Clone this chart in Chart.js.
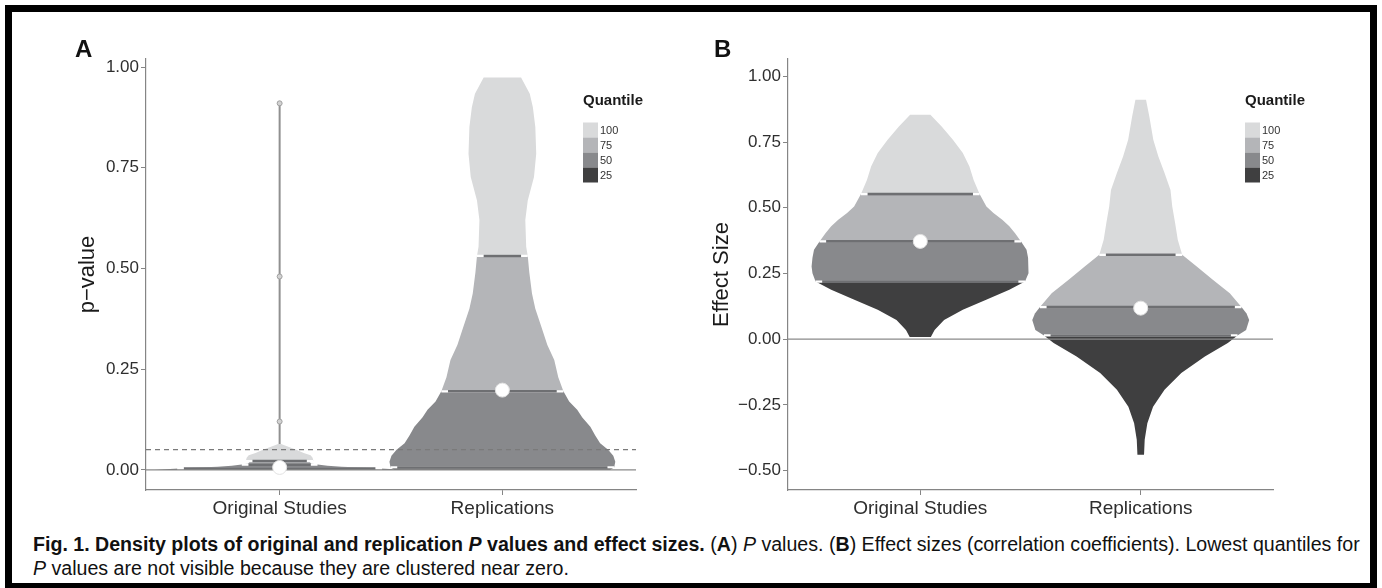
<!DOCTYPE html>
<html>
<head>
<meta charset="utf-8">
<script src="https://cdn.jsdelivr.net/npm/chart.js@4.4.1/dist/chart.umd.min.js"></script>
<style>
  html, body { margin: 0; padding: 0; background: #fff; }
  body { width: 1382px; height: 588px; position: relative; overflow: hidden; font-family: "Liberation Sans", Arial, sans-serif; }
  .frame { position: absolute; left: 5px; top: 5px; width: 1372px; height: 585px; box-sizing: border-box; border: 7px solid #000; pointer-events: none; }
  .panel-label { position: absolute; top: 37px; font: bold 24px "Liberation Sans", Arial, sans-serif; line-height: 24px; color: #111; }
  #chartA { position: absolute; left: 0; top: 0; }
  #chartB { position: absolute; left: 700px; top: 0; }
  .caption { position: absolute; left: 33px; top: 532px; font-size: 19.6px; line-height: 24px; color: #111; white-space: nowrap; }
</style>
</head>
<body>
<canvas id="chartA" width="690" height="530"></canvas>
<canvas id="chartB" width="640" height="530"></canvas>
<div class="panel-label" style="left:75px">A</div>
<div class="panel-label" style="left:714px">B</div>
<div class="caption"><b>Fig. 1. Density plots of original and replication <i>P</i> values and effect sizes.</b> (<b>A</b>) <i>P</i> values. (<b>B</b>) Effect sizes (correlation coefficients). Lowest quantiles for<br><i>P</i> values are not visible because they are clustered near zero.</div>
<div class="frame"></div>
<script>
// categories and legend
const categories = ['Original Studies', 'Replications'];
const catPos = [1, 2];
const quantileLabels = ['100', '75', '50', '25'];

// panel A: p-values
const yTicksA = [0, 0.25, 0.5, 0.75, 1];
const yTickLabelsA = ['0.00', '0.25', '0.50', '0.75', '1.00'];
const pThreshold = 0.05;

// violin profiles: y value and half width (in category units)
const origA_y = [0, 0.002, 0.003, 0.005, 0.008, 0.010, 0.013, 0.016, 0.019, 0.022, 0.030, 0.036, 0.042, 0.050, 0.056, 0.062, 0.064];
const origA_w = [0.560, 0.493, 0.460, 0.392, 0.278, 0.215, 0.170, 0.143, 0.135, 0.152, 0.148, 0.139, 0.108, 0.075, 0.045, 0.018, 0.007];
const origA_q = [0.003, 0.013, 0.022];
const origA_stem = [0.064, 0.91];
const origA_bumps = [0.12, 0.48, 0.91];

const repA_y = [0, 0.006, 0.020, 0.035, 0.050, 0.066, 0.085, 0.107, 0.130, 0.149, 0.170, 0.195, 0.230, 0.273, 0.310, 0.355, 0.400, 0.438, 0.490, 0.531, 0.554, 0.620, 0.669, 0.727, 0.785, 0.851, 0.900, 0.934, 0.974];
const repA_w = [0.484, 0.502, 0.507, 0.498, 0.475, 0.439, 0.417, 0.395, 0.359, 0.336, 0.300, 0.274, 0.251, 0.233, 0.202, 0.175, 0.148, 0.133, 0.121, 0.114, 0.107, 0.103, 0.114, 0.142, 0.152, 0.148, 0.137, 0.123, 0.084];
const repA_q = [0.006, 0.195, 0.531];

const meanA = [0.006, 0.198];

// panel B: effect sizes
const yTicksB = [-0.5, -0.25, 0, 0.25, 0.5, 0.75, 1];
const yTickLabelsB = ['\u22120.50', '\u22120.25', '0.00', '0.25', '0.50', '0.75', '1.00'];

const origB_y = [0.008, 0.035, 0.073, 0.112, 0.150, 0.188, 0.219, 0.251, 0.276, 0.310, 0.340, 0.372, 0.403, 0.430, 0.454, 0.480, 0.505, 0.552, 0.606, 0.657, 0.708, 0.759, 0.809, 0.854];
const origB_w = [0.048, 0.065, 0.108, 0.193, 0.299, 0.404, 0.475, 0.489, 0.493, 0.489, 0.482, 0.457, 0.430, 0.404, 0.372, 0.332, 0.300, 0.269, 0.242, 0.223, 0.193, 0.148, 0.097, 0.046];
const origB_q = [0.219, 0.372, 0.552];

const repB_y = [-0.440, -0.383, -0.320, -0.257, -0.193, -0.129, -0.066, -0.015, 0.014, 0.035, 0.073, 0.098, 0.122, 0.175, 0.226, 0.276, 0.321, 0.378, 0.442, 0.505, 0.568, 0.632, 0.695, 0.759, 0.847, 0.911];
const repB_w = [0.015, 0.018, 0.030, 0.056, 0.108, 0.184, 0.291, 0.395, 0.439, 0.478, 0.492, 0.480, 0.457, 0.404, 0.327, 0.254, 0.188, 0.168, 0.156, 0.143, 0.135, 0.108, 0.080, 0.057, 0.039, 0.024];
const repB_q = [0.014, 0.122, 0.321];

const meanB = [0.372, 0.118];

// styling
const FONT = '"Liberation Sans", Arial, sans-serif';
const bandColors = ['#3f3f40', '#88898c', '#b4b5b8', '#d9dadb']; // 25, 50, 75, 100
const axisColor = '#858585';
const xMin = 0.4, xMax = 2.6;

function violinDatasets(xc, ys, ws, qs) {
    const out = [];
    const cuts = [ys[0]].concat(qs, [ys[ys.length - 1]]);
    for (let b = 0; b < 4; b++) {
        const lo = cuts[b], hi = cuts[b + 1];
        const left = [], right = [];
        ys.forEach(function (y, i) {
            if (y >= lo - 1e-9 && y <= hi + 1e-9) {
                left.push({ x: xc - ws[i], y: y });
                right.unshift({ x: xc + ws[i], y: y });
            }
        });
        const pts = left.concat(right);
        pts.push(pts[0]);
        out.push({
            data: pts, showLine: true, fill: 'shape', backgroundColor: bandColors[b],
            borderColor: 'rgba(0,0,0,0)', borderWidth: 0, pointRadius: 0, order: 10
        });
    }
    // quantile lines, white tips at the ends
    qs.forEach(function (q) {
        const w = ws[ys.indexOf(q)];
        out.push({
            data: [{ x: xc - w, y: q }, { x: xc + w, y: q }], showLine: true,
            borderColor: '#ffffff', borderWidth: 2.2, pointRadius: 0, order: 9
        });
        out.push({
            data: [{ x: xc - w + 0.03, y: q }, { x: xc + w - 0.03, y: q }], showLine: true,
            borderColor: '#6e6f72', borderWidth: 2.6, pointRadius: 0, order: 8
        });
    });
    return out;
}

function refLine(y, dash) {
    return {
        data: [{ x: xMin, y: y }, { x: xMax, y: y }], showLine: true,
        borderColor: dash ? '#7a7a7a' : '#8a8a8a', borderWidth: 1.2, borderDash: dash || [],
        pointRadius: 0, order: 5
    };
}

function meanDots(means) {
    return {
        data: means.map(function (m, i) { return { x: catPos[i], y: m }; }),
        pointRadius: 7, backgroundColor: '#ffffff', borderColor: '#e2e2e2', borderWidth: 1, order: 1
    };
}

const quantileLegend = {
    id: 'quantileLegend',
    afterDraw: function (chart, args, opts) {
        const ctx = chart.ctx;
        ctx.save();
        ctx.textBaseline = 'middle';
        ctx.fillStyle = '#1a1a1a';
        ctx.font = 'bold 15px ' + FONT;
        ctx.fillText('Quantile', opts.x, opts.y);
        quantileLabels.forEach(function (lab, i) {
            const top = opts.y + 21.5 + i * 15;
            ctx.fillStyle = bandColors[3 - i];
            ctx.fillRect(opts.x, top, 15, 15);
            ctx.fillStyle = '#333';
            ctx.font = '11px ' + FONT;
            ctx.fillText(lab, opts.x + 17, top + 8);
        });
        ctx.restore();
    }
};

function makeScales(yMin, yMax, yTicks, yLabels, yTitle, yWidth) {
    return {
        x: {
            type: 'linear', min: xMin, max: xMax,
            afterBuildTicks: function (s) { s.ticks = catPos.map(function (v) { return { value: v }; }); },
            afterFit: function (s) { s.height = 40; s.paddingLeft = 0; s.paddingRight = 0; },
            ticks: {
                callback: function (v, i) { return categories[i]; },
                font: { size: 19, family: FONT }, color: '#2e2e2e', padding: 2, maxRotation: 0, autoSkip: false
            },
            grid: { display: true, drawOnChartArea: false, drawTicks: true, tickLength: 5, color: axisColor },
            border: { display: true, color: axisColor, width: 1.2 }
        },
        y: {
            type: 'linear', min: yMin, max: yMax,
            afterBuildTicks: function (s) { s.ticks = yTicks.map(function (v) { return { value: v }; }); },
            afterFit: function (s) { s.width = yWidth; s.paddingTop = 0; s.paddingBottom = 0; },
            ticks: {
                callback: function (v, i) { return yLabels[i]; },
                font: { size: 17, family: FONT }, color: '#2e2e2e', padding: 2
            },
            title: { display: true, text: yTitle, font: { size: 22, family: FONT }, color: '#1a1a1a', padding: { top: 5, bottom: 0 } },
            grid: { display: true, drawOnChartArea: false, drawTicks: true, tickLength: 5, color: axisColor },
            border: { display: true, color: axisColor, width: 1.2 }
        }
    };
}

function makeChart(id, datasets, scales, padding, legendPos) {
    return new Chart(document.getElementById(id), {
        type: 'scatter',
        data: { datasets: datasets },
        options: {
            responsive: false,
            animation: false,
            layout: { padding: padding },
            plugins: {
                legend: { display: false },
                tooltip: { enabled: false },
                quantileLegend: legendPos
            },
            scales: scales
        },
        plugins: [quantileLegend]
    });
}

document.addEventListener('DOMContentLoaded', function () {
    // Panel A
    const dsA = []
        .concat(violinDatasets(catPos[0], origA_y, origA_w, origA_q))
        .concat(violinDatasets(catPos[1], repA_y, repA_w, repA_q));
    dsA.push({
        data: origA_stem.map(function (y) { return { x: catPos[0], y: y }; }), showLine: true,
        borderColor: '#909090', borderWidth: 2, pointRadius: 0, order: 7
    });
    dsA.push({
        data: origA_bumps.map(function (y) { return { x: catPos[0], y: y }; }),
        pointRadius: 2.5, backgroundColor: '#d2d2d2', borderColor: '#a0a0a0', borderWidth: 1, order: 6
    });
    dsA.push(refLine(0));
    dsA.push(refLine(pThreshold, [5, 4]));
    dsA.push(meanDots(meanA));
    makeChart('chartA', dsA,
        makeScales(-0.05, 1.02, yTicksA, yTickLabelsA, 'p\u2212value', 76),
        { left: 70, right: 54, top: 59, bottom: 0 }, { x: 583, y: 101 });

    // Panel B
    const dsB = []
        .concat(violinDatasets(catPos[0], origB_y, origB_w, origB_q))
        .concat(violinDatasets(catPos[1], repB_y, repB_w, repB_q));
    dsB.push(refLine(0));
    dsB.push(meanDots(meanB));
    makeChart('chartB', dsB,
        makeScales(-0.574, 1.066, yTicksB, yTickLabelsB, 'Effect Size', 84),
        { left: 4, right: 67, top: 59, bottom: 0 }, { x: 545, y: 101 });
});
</script>
</body>
</html>
